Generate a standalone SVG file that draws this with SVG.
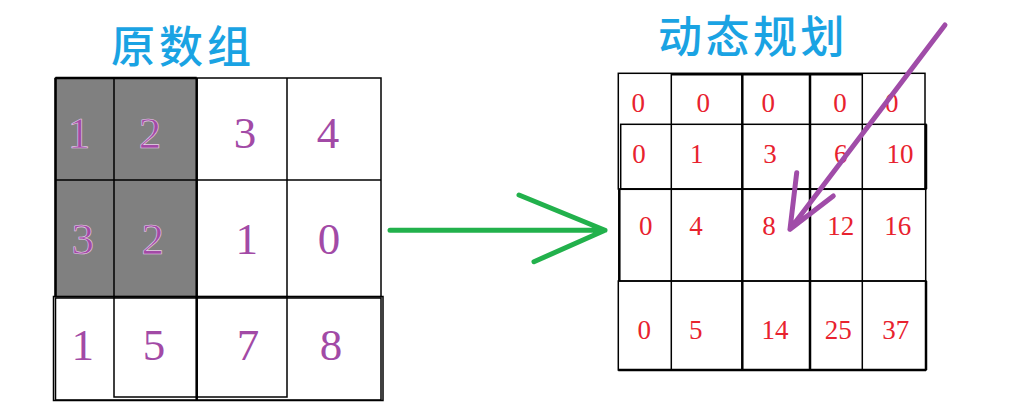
<svg xmlns="http://www.w3.org/2000/svg" width="1028" height="419" viewBox="0 0 1028 419">
<style>
.title{font-family:"Noto Sans CJK SC","Noto Sans",sans-serif;font-size:44px;fill:#1aa3e3;font-weight:500}
.ld{font-family:"Liberation Serif","DejaVu Serif",serif;font-size:45px;fill:#a24aa6;text-anchor:middle}
.gd{stroke:#e6d0e8;stroke-width:0.6}
.rd{font-family:"Liberation Serif","DejaVu Serif",serif;font-size:27px;fill:#e8222e;text-anchor:middle}
.g{fill:none;stroke:#000;stroke-width:1.5}
.gt{fill:none;stroke:#000;stroke-width:2.5}
.arr{fill:none;stroke-linecap:round;stroke-linejoin:round}
</style>
<rect width="1028" height="419" fill="#fff"/>
<g id="title-left"><text class="title" x="111" y="63" letter-spacing="4">原数组</text></g>
<g id="title-right"><text class="title" x="658" y="53" letter-spacing="3.5">动态规划</text></g>
<g id="left-grid">
<rect x="55.5" y="78" width="141.2" height="218.7" fill="#808080"/>
<rect class="g" x="55.5" y="78" width="325.5" height="218.7"/>
<line class="gt" x1="55.5" y1="78" x2="196.7" y2="78"/>
<line class="gt" x1="55.5" y1="78" x2="55.5" y2="296.7"/>
<line class="g" x1="114" y1="78" x2="114" y2="296.7"/>
<line class="gt" x1="196.7" y1="78" x2="196.7" y2="400"/>
<line class="g" x1="287" y1="78" x2="287" y2="296.7"/>
<line class="g" x1="55.5" y1="180" x2="381" y2="180"/>
<rect class="g" x="53.5" y="296.5" width="329.5" height="104"/>
<rect class="g" x="55.5" y="298" width="325.5" height="102"/>
<rect class="g" x="114" y="296.7" width="82.7" height="100.3"/>
<rect class="g" x="196.7" y="296.7" width="90.3" height="100.3"/>
</g>
<g id="left-values">
<text class="ld gd" x="79" y="148">1</text>
<text class="ld gd" x="150" y="148">2</text>
<text class="ld" x="245" y="148">3</text>
<text class="ld" x="328" y="148">4</text>
<text class="ld gd" x="82.7" y="254">3</text>
<text class="ld gd" x="152.7" y="254">2</text>
<text class="ld" x="246.7" y="254">1</text>
<text class="ld" x="329" y="254">0</text>
<text class="ld" x="82.7" y="360">1</text>
<text class="ld" x="154" y="360">5</text>
<text class="ld" x="248" y="360">7</text>
<text class="ld" x="331" y="360">8</text>
</g>
<g id="right-grid">
<rect class="g" x="618.3" y="73.3" width="306.7" height="115.7"/>
<line class="g" x1="671.3" y1="74.7" x2="862.3" y2="74.7"/>
<rect class="g" x="620.7" y="124.3" width="305.3" height="64.7"/>
<line class="gt" x1="926" y1="124.3" x2="926" y2="189"/>
<rect class="g" x="619.3" y="189.3" width="306.4" height="91.7"/>
<line class="gt" x1="619.3" y1="189.3" x2="619.3" y2="281"/>
<rect class="g" x="618.3" y="281" width="307.7" height="89"/>
<line class="gt" x1="618.3" y1="370" x2="926" y2="370"/>
<line class="gt" x1="926" y1="281" x2="926" y2="370"/>
<line class="g" x1="671.3" y1="73.3" x2="671.3" y2="370"/>
<line class="gt" x1="742.3" y1="73.3" x2="742.3" y2="370"/>
<line class="gt" x1="810" y1="73.3" x2="810" y2="370"/>
<line class="g" x1="862.3" y1="73.3" x2="862.3" y2="370"/>
</g>
<g id="right-values">
<text class="rd" x="638.3" y="112">0</text>
<text class="rd" x="703.3" y="112">0</text>
<text class="rd" x="768.3" y="112">0</text>
<text class="rd" x="840" y="112">0</text>
<text class="rd" x="891.7" y="112">0</text>
<text class="rd" x="639" y="163.3">0</text>
<text class="rd" x="696.7" y="163.3">1</text>
<text class="rd" x="770" y="163.3">3</text>
<text class="rd" x="840.7" y="163.3">6</text>
<text class="rd" x="900" y="163.3">10</text>
<text class="rd" x="645.7" y="235">0</text>
<text class="rd" x="696" y="235">4</text>
<text class="rd" x="769" y="235">8</text>
<text class="rd" x="840.7" y="235">12</text>
<text class="rd" x="897.7" y="235">16</text>
<text class="rd" x="644.3" y="339.3">0</text>
<text class="rd" x="695.7" y="339.3">5</text>
<text class="rd" x="775" y="339.3">14</text>
<text class="rd" x="838.3" y="339.3">25</text>
<text class="rd" x="895.7" y="339.3">37</text>
</g>
<g id="connectors">
<path class="arr" stroke="#22b14c" stroke-width="5" d="M390 230.3H605M519 195L605 230.3L534 261.7"/>
<path class="arr" stroke="#a04ca8" stroke-width="5" d="M945 25L790 229.3M796.7 172.7L790 229.3L833.3 196"/>
</g>
</svg>
